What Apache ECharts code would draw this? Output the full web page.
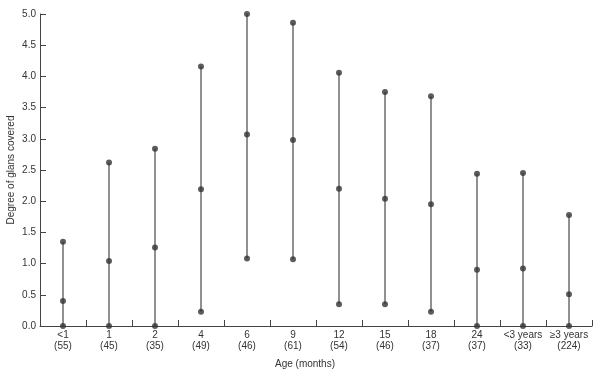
<!DOCTYPE html>
<html><head><meta charset="utf-8">
<script src="https://cdn.jsdelivr.net/npm/echarts@6/dist/echarts.min.js"></script>
<style>html,body{margin:0;padding:0;background:#fff}#c{width:601px;height:376px}</style>
</head><body><div id="c"></div>
<script>
var categories = ['<1\n(55)', '1\n(45)', '2\n(35)', '4\n(49)', '6\n(46)', '9\n(61)', '12\n(54)', '15\n(46)', '18\n(37)', '24\n(37)', '<3 years\n(33)', '≥3 years\n(224)'];
var lowValues  = [0, 0, 0, 0.23, 1.08, 1.07, 0.35, 0.35, 0.23, 0, 0, 0];
var midValues  = [0.40, 1.04, 1.26, 2.19, 3.07, 2.98, 2.20, 2.04, 1.95, 0.90, 0.92, 0.51];
var highValues = [1.35, 2.62, 2.84, 4.16, 5.0, 4.86, 4.06, 3.75, 3.68, 2.44, 2.45, 1.78];
var yTicks = ['0.0','0.5','1.0','1.5','2.0','2.5','3.0','3.5','4.0','4.5','5.0'];

var rangeData = categories.map(function (c, i) { return [i, lowValues[i], highValues[i]]; });
var dotData = [];
categories.forEach(function (c, i) {
  dotData.push([i, lowValues[i]], [i, midValues[i]], [i, highValues[i]]);
});

var chart = echarts.init(document.getElementById('c'));
var txt = '#333';
chart.setOption({
  animation: false,
  backgroundColor: '#fff',
  grid: { left: 40, right: 9, top: 14, bottom: 50, outerBoundsMode: 'none', containLabel: false },
  xAxis: {
    type: 'category',
    data: categories,
    boundaryGap: true,
    name: 'Age (months)',
    nameLocation: 'middle',
    nameGap: 33,
    nameMoveOverlap: false,
    nameTextStyle: { color: txt, fontSize: 10, fontFamily: 'Liberation Sans', padding: [0, 22, 0, 0] },
    axisLine: { lineStyle: { color: '#444', width: 1 } },
    axisTick: { show: true, inside: true, length: 6, interval: 0, alignWithLabel: false, lineStyle: { color: '#444', width: 1 } },
    axisLabel: { color: txt, fontSize: 10, fontFamily: 'Liberation Sans', lineHeight: 11, margin: 4, interval: 0, hideOverlap: false },
    splitLine: { show: false }
  },
  yAxis: {
    type: 'value',
    min: 0, max: 5, interval: 0.5,
    name: 'Degree of glans covered',
    nameLocation: 'middle',
    nameGap: 24,
    nameMoveOverlap: false,
    nameRotate: 90,
    nameTextStyle: { color: txt, fontSize: 10, fontFamily: 'Liberation Sans' },
    axisLine: { show: true, lineStyle: { color: '#444', width: 1 } },
    axisTick: { show: true, inside: true, length: 6, lineStyle: { color: '#444', width: 1 } },
    axisLabel: { color: txt, fontSize: 10, fontFamily: 'Liberation Sans', margin: 4,
      formatter: function (v) { return yTicks[Math.round(v / 0.5)]; } },
    splitLine: { show: false }
  },
  series: [
    {
      type: 'custom',
      data: rangeData,
      encode: { x: 0, y: [1, 2] },
      renderItem: function (params, api) {
        var p1 = api.coord([api.value(0), api.value(1)]);
        var p2 = api.coord([api.value(0), api.value(2)]);
        return { type: 'line', shape: { x1: p1[0], y1: p1[1], x2: p2[0], y2: p2[1] },
          style: { stroke: '#222', lineWidth: 1 } };
      },
      z: 2
    },
    {
      type: 'scatter',
      data: dotData,
      symbol: 'circle',
      symbolSize: 6,
      itemStyle: { color: '#333' },
      z: 3
    }
  ]
});
</script></body></html>
